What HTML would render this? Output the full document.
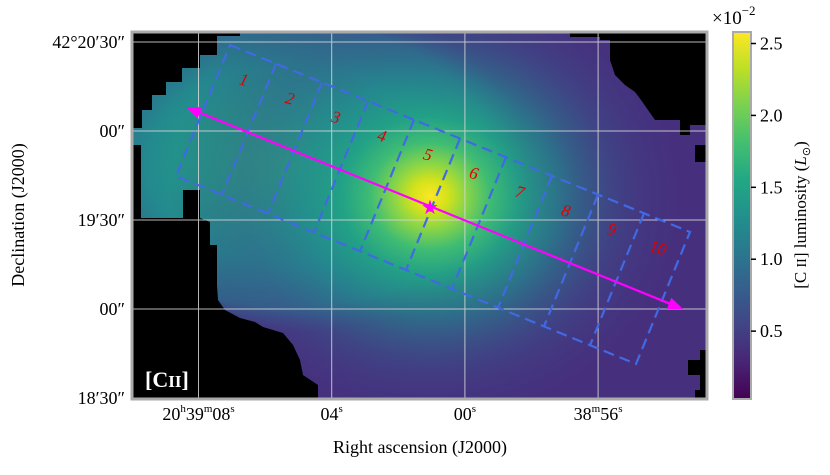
<!DOCTYPE html>
<html><head><meta charset="utf-8"><style>
body{margin:0;background:#fff;width:830px;height:470px;overflow:hidden}
text{font-family:"Liberation Serif",serif}
</style></head><body>
<svg width="830" height="470" viewBox="0 0 830 470">
<defs>
<clipPath id="pc"><rect x="132" y="32" width="575" height="367"/></clipPath>
<radialGradient id="peak" cx="430" cy="196" r="260" gradientUnits="userSpaceOnUse" gradientTransform="translate(430 196) scale(1 0.9) translate(-430 -196)">
<stop offset="0" stop-color="#fde725"/>
<stop offset="0.07" stop-color="#d2e21b"/>
<stop offset="0.14" stop-color="#8ad547"/>
<stop offset="0.23" stop-color="#3fbc73"/>
<stop offset="0.34" stop-color="#22a286" stop-opacity="0.95"/>
<stop offset="0.5" stop-color="#24878e" stop-opacity="0.75"/>
<stop offset="0.72" stop-color="#39568c" stop-opacity="0.45"/>
<stop offset="1" stop-color="#45307d" stop-opacity="0"/>
</radialGradient>
<radialGradient id="west" cx="290" cy="165" r="240" gradientUnits="userSpaceOnUse" gradientTransform="translate(290 165) scale(1 0.7) translate(-290 -165)">
<stop offset="0" stop-color="#2fb07a"/>
<stop offset="0.3" stop-color="#22a086"/>
<stop offset="0.6" stop-color="#23898e"/>
<stop offset="0.85" stop-color="#2c728e" stop-opacity="0.8"/>
<stop offset="1" stop-color="#3b518b" stop-opacity="0"/>
</radialGradient>
<linearGradient id="viridis" x1="0" y1="1" x2="0" y2="0">
<stop offset="0" stop-color="#440154"/><stop offset="0.1" stop-color="#482475"/>
<stop offset="0.2" stop-color="#414487"/><stop offset="0.3" stop-color="#355f8d"/>
<stop offset="0.4" stop-color="#2a788e"/><stop offset="0.5" stop-color="#21918c"/>
<stop offset="0.6" stop-color="#22a884"/><stop offset="0.7" stop-color="#44bf70"/>
<stop offset="0.8" stop-color="#7ad151"/><stop offset="0.9" stop-color="#bddf26"/>
<stop offset="1" stop-color="#fde725"/>
</linearGradient>
</defs>
<g clip-path="url(#pc)">
<rect x="132" y="32" width="575" height="367" fill="#46307e"/>
<rect x="132" y="32" width="575" height="367" fill="url(#west)"/>
<rect x="132" y="32" width="575" height="367" fill="url(#peak)"/>
<g fill="#000">
<polygon points="132,32 240,32 240,36 217,36 217,55 200,55 200,68 182,68 182,82 166,82 166,95 152,95 152,110 142,110 142,128 132,128"/>
<polygon points="132,145 141,145 141,218 132,218"/>
<polygon points="183,190 200,190 200,218 183,218"/>
<polygon points="132,218 200,218 210,222 210,245 217,245 217,285 218,300 225,310 240,318 255,322 263,327 283,333 293,345 300,360 303,375 318,385 318,399 132,399"/>
<polygon points="570,32 707,32 707,125 690,125 690,135 680,135 680,120 655,120 648,110 641,100 635,92 625,85 615,75 610,60 610,40 600,40 600,37 570,37"/>
<polygon points="695,145 707,145 707,162 695,162"/>
<polygon points="707,350 700,350 700,360 688,360 688,375 700,375 700,390 695,390 695,399 707,399"/>
</g>
<g stroke="#d8d8d8" stroke-width="1" opacity="0.85" id="grid"></g>
<g id="regions"></g>
<text x="145" y="387" font-size="22" font-weight="bold" fill="#fff">[C<tspan font-size="17">II</tspan>]</text>
</g>
<rect x="132" y="32" width="575" height="367" fill="none" stroke="#aaa" stroke-width="3"/>
<g id="yticks" font-size="18" text-anchor="end"></g>
<g id="xticks" font-size="18" text-anchor="middle"></g>
<text x="420" y="453" font-size="18" text-anchor="middle">Right ascension (J2000)</text>
<text transform="translate(24 215) rotate(-90)" font-size="18" text-anchor="middle">Declination (J2000)</text>
<rect x="733" y="32" width="18" height="367" fill="url(#viridis)" stroke="#aaa" stroke-width="2"/>
<g id="cbticks" font-size="18"></g>
<text x="712" y="24" font-size="19">×10<tspan dy="-9" font-size="13">−2</tspan></text>
<text transform="translate(806 215) rotate(-90)" font-size="17" text-anchor="middle">[C <tspan font-size="14">II</tspan>] luminosity (<tspan font-style="italic">L</tspan><tspan font-size="11" dy="4">⊙</tspan><tspan dy="-4">)</tspan></text>
</svg>
<script>
const NS="http://www.w3.org/2000/svg";
const cbTicks=[0.5,1.0,1.5,2.0,2.5];
const cbMin=0.035, cbMax=2.58;
const yTickLabels=["42°20′30″","00″","19′30″","00″","18′30″"];
const yTickPos=[0,1,2,3,4];
const xTickLabels=[["20","h","39","m","08","s"],["04","s"],["00","s"],["38","m","56","s"]];
const xTickPos=[0,1,2,3];
const regionLabels=["1","2","3","4","5","6","7","8","9","10"];
function cbY(v){return 398-(v-cbMin)/(cbMax-cbMin)*366;}
function decY(i){return 42+i*89;}
function raX(i){return 198.5+i*133.2;}
function mk(tag,attrs,parent){const e=document.createElementNS(NS,tag);for(const k in attrs)e.setAttribute(k,attrs[k]);parent.appendChild(e);return e;}
const cb=document.getElementById('cbticks');
cbTicks.forEach(v=>{const y=cbY(v);
 const l=mk('line',{x1:751,x2:756,y1:y,y2:y,stroke:'#000','stroke-width':1.5},cb);
 
 
 const t=mk('text',{x:760,y:y+6},cb);t.textContent=v.toFixed(1);
 
 });
const grid=document.getElementById('grid');
yTickPos.forEach(i=>{const y=decY(i);const l=mk('line',{x1:132,x2:707,y1:y,y2:y},grid);
 
 });
xTickPos.forEach(i=>{const x=raX(i);const l=mk('line',{x1:x,x2:x,y1:32,y2:399},grid);
 
 });
const yt=document.getElementById('yticks');
yTickLabels.forEach((s,i)=>{const t=mk('text',{x:125,y:decY(i)+6},yt);t.textContent=s;
 
 });
const xt=document.getElementById('xticks');
xTickLabels.forEach((parts,i)=>{const t=mk('text',{x:raX(i),y:420},xt);
 
 
 parts.forEach((p,j)=>{const s=mk('tspan',j%2?{'font-size':11,dy:-8}:{dy:(j>0?8:0)},t);s.textContent=p;});});
const reg=document.getElementById('regions');
const TL=[230,45],TR=[690,232],BR=[636,364],BL=[176,176];
function lerp(a,b,f){return [a[0]+(b[0]-a[0])*f,a[1]+(b[1]-a[1])*f];}
const dash={stroke:'#4169e1','stroke-width':2.2,'stroke-dasharray':'11,6',fill:'none'};
const box=mk('polygon',Object.assign({points:[TL,TR,BR,BL].map(p=>p.join(',')).join(' ')},dash),reg);


for(let i=1;i<regionLabels.length;i++){const a=lerp(TL,TR,i/10),b=lerp(BL,BR,i/10);
 const l=mk('line',Object.assign({x1:a[0],y1:a[1],x2:b[0],y2:b[1]},dash),reg);
 
 }
regionLabels.forEach((s,i)=>{const p=lerp(TL,TR,(i+0.5)/10);
 const t=mk('text',{x:p[0]-9,y:p[1]+31,'font-size':17,'font-style':'italic',fill:'#e00000','text-anchor':'middle',transform:`rotate(15 ${p[0]-9} ${p[1]+25})`},reg);
 t.textContent=s;
 
 });
const C=[430,207],E=[683,309],W=[186,107];
const ln=mk('line',{x1:W[0]+8,y1:W[1]+3.3,x2:E[0]-8,y2:E[1]-3.2,stroke:'#ff00ff','stroke-width':2.2},reg);


function head(tip,dir){const ang=Math.atan2(dir[1],dir[0]);const L=15,Wd=6;
 const bx=tip[0]-L*Math.cos(ang),by=tip[1]-L*Math.sin(ang);
 const px=-Math.sin(ang)*Wd,py=Math.cos(ang)*Wd;
 return `${tip[0]},${tip[1]} ${bx+px},${by+py} ${bx-px},${by-py}`;}
const h1=mk('polygon',{points:head(E,[E[0]-C[0],E[1]-C[1]]),fill:'#ff00ff'},reg);


const h2=mk('polygon',{points:head(W,[W[0]-C[0],W[1]-C[1]]),fill:'#ff00ff'},reg);


const st=mk('text',{x:C[0],y:C[1]+7,'font-size':20,fill:'#ff00ff','text-anchor':'middle'},reg);
st.textContent='★';


</script>
</body></html>
